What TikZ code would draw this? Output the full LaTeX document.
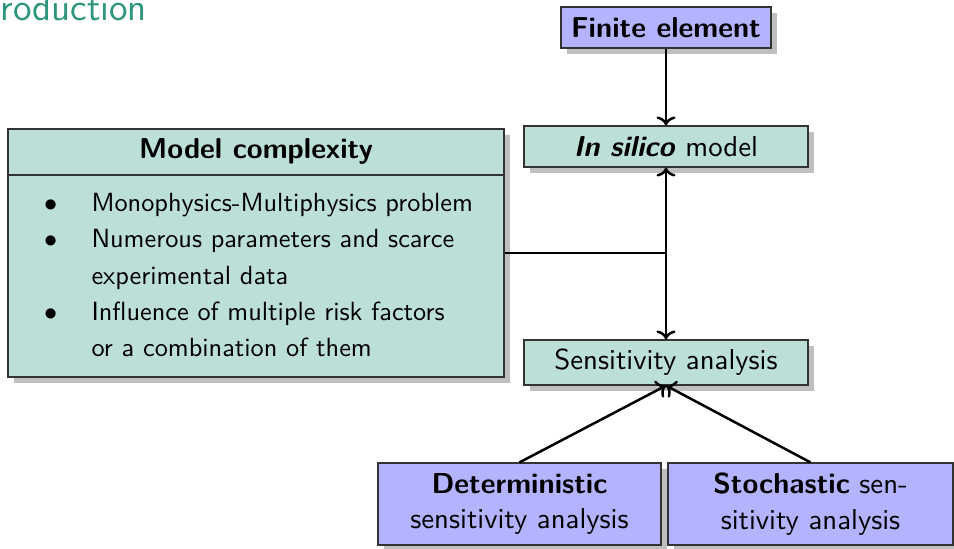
\documentclass[tikz,border=0pt]{standalone}
\usetikzlibrary{shadows,arrows.meta}
\definecolor{lav}{RGB}{179,179,255}
\definecolor{mint}{RGB}{188,223,215}
\definecolor{tealt}{RGB}{46,150,124}
\def\pxu{0.3802pt}
\begin{document}
\begin{tikzpicture}[x=0.3802pt,y=-0.3802pt,
  font=\sffamily\fontsize{10.95}{13.6}\selectfont,
  box/.style={draw=black!80, line width=0.45pt, inner sep=0pt, align=center,
     drop shadow={shadow xshift=2.3pt, shadow yshift=-2.3pt}},
  lavbox/.style={box, fill=lav},
  mintbox/.style={box, fill=mint},
  plain/.style={inner sep=0pt},
  conn/.style={line width=0.95pt, -{To[length=3.4pt,width=7.2pt]}},
  ]
\useasboundingbox (0,0) rectangle (954,549);
\node[plain, font=\sffamily\fontsize{14.4}{17}\selectfont, text=tealt, anchor=base west] (title) at (0,21) {roduction};
% boxes
\node[lavbox, minimum width=210*\pxu, minimum height=41*\pxu] (fe) at (666,27.5) {\textbf{Finite element}};
\node[mintbox, minimum width=284*\pxu, minimum height=41*\pxu] (ism) at (666,146.5) {\textbf{\textit{In silico}} model};
\node[mintbox, minimum width=284*\pxu, minimum height=45*\pxu] (sa) at (666,362.5) {Sensitivity analysis};
\node[lavbox, minimum width=283*\pxu, minimum height=82*\pxu] (det) at (519.5,504) {\textbf{Deterministic}\\sensitivity analysis};
\node[lavbox, minimum width=285*\pxu, minimum height=82*\pxu] (sto) at (810.5,504) {\textbf{Stochastic} sen-\\sitivity analysis};
\node[mintbox, minimum width=496*\pxu, minimum height=248*\pxu] (mc) at (256,253) {};
\node[plain, anchor=base] (mch) at (256,159) {\textbf{Model complexity}};
\coordinate (hl) at (8,175);
\coordinate (hr) at (504,175);
\draw[draw=black!80, line width=0.45pt] (hl) -- (hr);
\node[plain, anchor=north west, align=left, font=\sffamily\fontsize{10}{13.75}\selectfont] (mcb) at (91,193) {%
\llap{$\bullet$\hspace{13pt}}Monophysics-Multiphysics problem\\
\llap{$\bullet$\hspace{13pt}}Numerous parameters and scarce\\
experimental data\\
\llap{$\bullet$\hspace{13pt}}Influence of multiple risk factors\\
or a combination of them};
% connectors
\draw[conn] (fe) -- (ism);
\draw[conn] (mc.east) -| (ism.south);
\draw[conn] (mc.east) -| (sa.north);
\draw[conn] (det.north) -- (sa.south);
\draw[conn] (sto.north) -- (sa.south);
\end{tikzpicture}
\end{document}
